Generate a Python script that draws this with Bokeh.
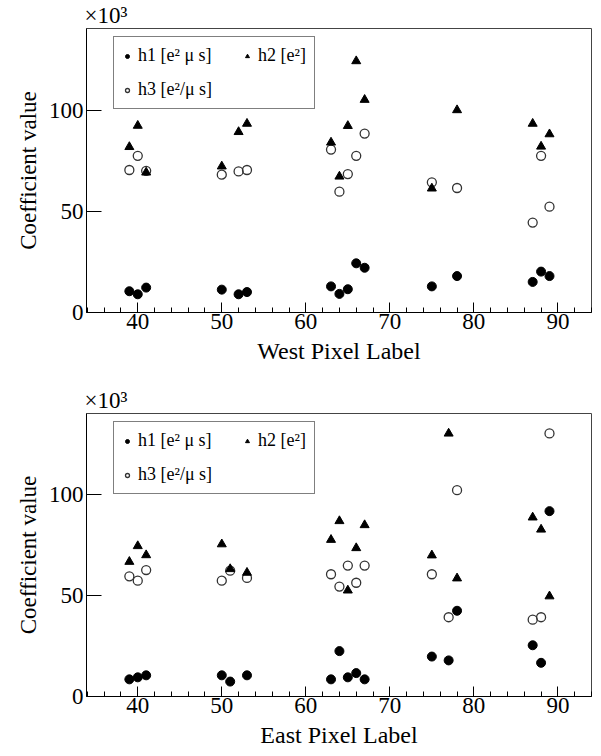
from bokeh.plotting import figure
from bokeh.models import (Range1d, SingleIntervalTicker, FixedTicker, Legend,
                          LegendItem, Title, ColumnDataSource)
from bokeh.layouts import column
from bokeh.embed import file_html
from bokeh.resources import INLINE

# ---- data (coefficient values in units of 10^3) ----
west_pixel = [39, 40, 41, 50, 52, 53, 63, 64, 65, 66, 67, 75, 78, 87, 88, 89]
west_h1 = [10.5, 9.0, 12.3, 11.3, 9.0, 10.1, 12.9, 9.2, 11.5, 24.3, 22.1, 12.9, 18.0, 15.1, 20.2, 18.0]
west_h2 = [81.8, 92.3, 69.2, 72.2, 89.2, 93.3, 84.0, 67.2, 92.2, 124.2, 105.1, 61.3, 100.0, 93.3, 82.0, 88.1]
west_h3 = [70.4, 77.4, 70.0, 68.1, 69.7, 70.4, 80.5, 59.7, 68.4, 77.4, 88.4, 64.3, 61.5, 44.4, 77.4, 52.3]

east_pixel = [39, 40, 41, 50, 51, 53, 63, 64, 65, 66, 67, 75, 77, 78, 87, 88, 89]
east_h1 = [8.5, 9.5, 10.5, 10.5, 7.4, 10.5, 8.5, 22.5, 9.5, 11.6, 8.5, 19.8, 17.9, 42.5, 25.4, 16.7, 91.9]
east_h2 = [66.8, 74.6, 70.1, 75.5, 63.2, 61.4, 77.7, 87.0, 52.6, 73.6, 85.0, 70.0, 130.4, 58.6, 88.8, 82.8, 49.7]
east_h3 = [59.6, 57.4, 62.7, 57.4, 62.4, 58.8, 60.6, 54.5, 64.9, 56.4, 64.9, 60.6, 39.3, 102.3, 38.1, 39.3, 130.4]

y_ticks = [0, 50, 100]

label_h1 = "h1 [e\u00b2 \u03bc s]"
label_h2 = "h2 [e\u00b2]"
label_h3 = "h3 [e\u00b2/\u03bc s]"

FONT = "'Liberation Serif', 'Times New Roman', 'DejaVu Serif', serif"


def legend_style(**kw):
    base = dict(margin=0, padding=8, spacing=13, glyph_width=10, glyph_height=10,
                label_standoff=6, label_text_font=FONT, label_text_font_size="18px",
                label_text_color="black")
    base.update(kw)
    return base


def make_panel(xs, h1, h2, h3, xlabel, height, border_top, border_bottom, leg_y):
    p = figure(width=601, height=height, output_backend="svg", toolbar_location=None,
               x_range=Range1d(33.9, 94.0), y_range=Range1d(0, 140.3),
               min_border_left=86, min_border_right=10,
               min_border_top=border_top, min_border_bottom=border_bottom)
    p.background_fill_color = "white"
    p.border_fill_color = "white"
    p.outline_line_color = "#444444"
    p.outline_line_width = 1
    p.xgrid.grid_line_color = None
    p.ygrid.grid_line_color = None

    p.xaxis.ticker = SingleIntervalTicker(interval=10, num_minor_ticks=5)
    p.yaxis.ticker = FixedTicker(ticks=y_ticks)
    for ax in (p.xaxis[0], p.yaxis[0]):
        ax.axis_line_color = "black"
        ax.major_tick_line_color = "black"
        ax.major_tick_out = 0
        ax.minor_tick_out = 0
        ax.major_label_text_font = FONT
        ax.major_label_text_font_size = "23px"
        ax.major_label_text_color = "black"
        ax.axis_label_text_font = FONT
        ax.axis_label_text_font_style = "normal"
        ax.axis_label_text_color = "black"
    p.xaxis.axis_label_text_font_size = "24px"
    p.yaxis.axis_label_text_font_size = "23px"
    p.xaxis.major_tick_in = 10
    p.xaxis.minor_tick_in = 5
    p.xaxis.minor_tick_line_color = "black"
    p.xaxis.major_label_standoff = 1
    p.xaxis.axis_label_standoff = 6
    p.xaxis.axis_label = xlabel
    p.yaxis.major_tick_in = 15
    p.yaxis.minor_tick_line_color = None
    p.yaxis.major_label_standoff = 3
    p.yaxis.axis_label_standoff = 5
    p.yaxis.axis_label = "Coefficient value"

    src = ColumnDataSource(dict(x=xs, h1=h1, h2=h2, h3=h3))
    r1 = p.scatter("x", "h1", source=src, marker="circle", size=9,
                   fill_color="black", line_color="black")
    r3 = p.scatter("x", "h3", source=src, marker="circle", size=9,
                   fill_color=None, line_color="#333333", line_width=1.3)
    r2 = p.scatter("x", "h2", source=src, marker="triangle", size=9,
                   fill_color="black", line_color="black")

    # framed legend holding column 1 (h1, h3), wide enough to enclose column 2
    leg_a = Legend(items=[LegendItem(label=label_h1, renderers=[r1]),
                          LegendItem(label=label_h3, renderers=[r3])],
                   orientation="vertical", location=(27, leg_y), label_width=168,
                   border_line_color="black", border_line_width=1,
                   background_fill_color="white", background_fill_alpha=1.0,
                   **legend_style())
    # column 2 (h2), drawn without frame on top of the first
    leg_b = Legend(items=[LegendItem(label=label_h2, renderers=[r2])],
                   orientation="vertical", location=(156, leg_y + 43),
                   border_line_color=None, background_fill_alpha=0.0,
                   **legend_style())
    p.add_layout(leg_a, "center")
    p.add_layout(leg_b, "center")

    t = Title(text="\u00d710\u00b3", align="left", text_font=FONT,
              text_font_size="23px", text_font_style="normal",
              text_color="black", offset=-2, standoff=1)
    p.add_layout(t, "above")
    return p


top = make_panel(west_pixel, west_h1, west_h2, west_h3, "West Pixel Label",
                 376, 27, 64, 203)
bot = make_panel(east_pixel, east_h1, east_h2, east_h3, "East Pixel Label",
                 380, 37, 60, 202)

layout = column(top, bot)
open("out.html", "w").write(file_html(layout, INLINE))
